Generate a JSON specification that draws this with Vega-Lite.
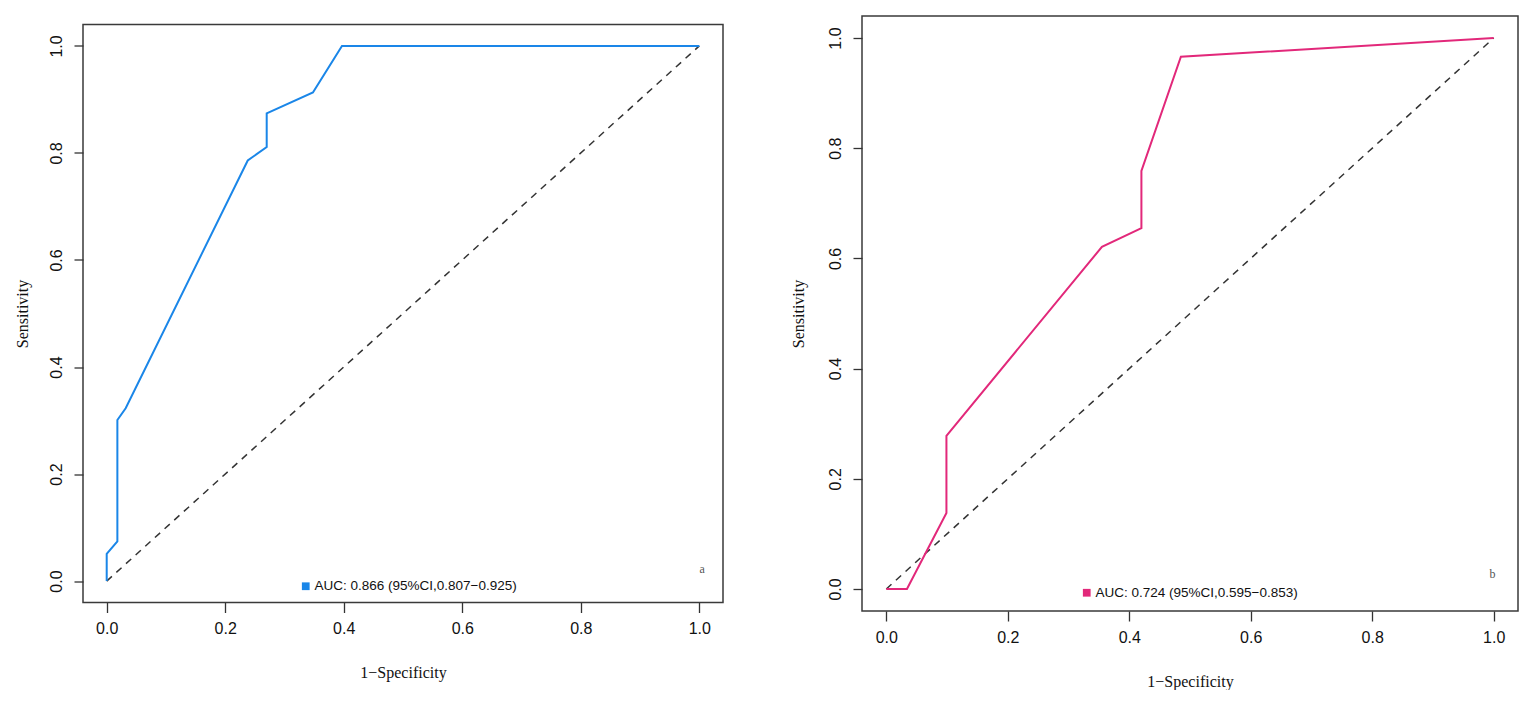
{
  "$schema": "https://vega.github.io/schema/vega-lite/v6.json",
  "background": "white",
  "padding": {"left": 13, "top": 15, "right": 0, "bottom": 0},
  "spacing": 139,
  "bounds": "flush",
  "center": true,
  "datasets": {
    "roc_a": [
      {"fpr": 0.0, "tpr": 0.0},
      {"fpr": 0.0, "tpr": 0.051},
      {"fpr": 0.018, "tpr": 0.074},
      {"fpr": 0.018, "tpr": 0.301},
      {"fpr": 0.032, "tpr": 0.323},
      {"fpr": 0.238, "tpr": 0.786},
      {"fpr": 0.270, "tpr": 0.811},
      {"fpr": 0.270, "tpr": 0.874},
      {"fpr": 0.348, "tpr": 0.913},
      {"fpr": 0.397, "tpr": 1.0},
      {"fpr": 1.0, "tpr": 1.0}
    ],
    "roc_b": [
      {"fpr": 0.0, "tpr": 0.0},
      {"fpr": 0.034, "tpr": 0.0},
      {"fpr": 0.099, "tpr": 0.138},
      {"fpr": 0.099, "tpr": 0.278},
      {"fpr": 0.355, "tpr": 0.621},
      {"fpr": 0.420, "tpr": 0.655},
      {"fpr": 0.420, "tpr": 0.759},
      {"fpr": 0.485, "tpr": 0.966},
      {"fpr": 1.0, "tpr": 1.0}
    ],
    "diag": [
      {"fpr": 0, "tpr": 0},
      {"fpr": 1, "tpr": 1}
    ]
  },
  "resolve": {"scale": {"color": "independent"}, "legend": {"color": "independent"}},
  "config": {
    "view": {"stroke": "#3a3a3a", "strokeWidth": 1.5},
    "axis": {
      "grid": false,
      "domain": false,
      "tickColor": "#333",
      "tickWidth": 1.3,
      "labelFont": "Liberation Sans",
      "labelFontSize": 16,
      "labelColor": "#111",
      "titleFont": "Liberation Serif",
      "titleFontSize": 16,
      "titleFontWeight": "normal",
      "titleColor": "#111"
    },
    "axisX": {"tickSize": 10, "labelPadding": 8, "titlePadding": 28},
    "axisY": {"tickSize": 9, "labelPadding": 13, "labelAngle": 270, "labelAlign": "center", "labelBaseline": "alphabetic", "titlePadding": 18},
    "legend": {
      "orient": "none",
      "padding": 0,
      "title": null,
      "symbolType": "square",
      "symbolSize": 60,
      "symbolStrokeWidth": 0,
      "labelFont": "Liberation Sans",
      "labelFontSize": 13.5,
      "labelColor": "#111",
      "labelOffset": 2,
      "labelLimit": 0
    }
  },
  "hconcat": [
    {
      "width": 640,
      "height": 578,
      "layer": [
        {
          "data": {"name": "diag"},
          "mark": {"type": "line", "color": "#333", "strokeWidth": 1.5, "strokeDash": [7, 6]},
          "encoding": {
            "x": {"field": "fpr", "type": "quantitative", "scale": {"domain": [-0.04, 1.04], "nice": false, "zero": false},
              "axis": {"values": [0, 0.2, 0.4, 0.6, 0.8, 1.0], "format": ".1f", "title": "1−Specificity"}},
            "y": {"field": "tpr", "type": "quantitative", "scale": {"domain": [-0.04, 1.04], "nice": false, "zero": false},
              "axis": {"values": [0, 0.2, 0.4, 0.6, 0.8, 1.0], "format": ".1f", "title": "Sensitivity"}}
          }
        },
        {
          "data": {"name": "roc_a"},
          "transform": [{"calculate": "'AUC: 0.866 (95%CI,0.807−0.925)'", "as": "series"}],
          "mark": {"type": "line", "strokeWidth": 2},
          "encoding": {
            "x": {"field": "fpr", "type": "quantitative"},
            "y": {"field": "tpr", "type": "quantitative"},
            "order": {"value": null},
            "color": {"field": "series", "type": "nominal",
              "scale": {"range": ["#1a86e8"]},
              "legend": {"legendX": 216, "legendY": 555, "symbolFillColor": "#1a86e8", "symbolStrokeColor": "#1a86e8"}}
          }
        },
        {
          "data": {"values": [{"tag": "a"}]},
          "mark": {"type": "text", "font": "Liberation Serif", "fontSize": 12, "color": "#555"},
          "encoding": {
            "x": {"datum": 1.005, "type": "quantitative"},
            "y": {"datum": 0.022, "type": "quantitative"},
            "text": {"field": "tag"}
          }
        }
      ]
    },
    {
      "width": 656,
      "height": 595,
      "layer": [
        {
          "data": {"name": "diag"},
          "mark": {"type": "line", "color": "#333", "strokeWidth": 1.5, "strokeDash": [7, 6]},
          "encoding": {
            "x": {"field": "fpr", "type": "quantitative", "scale": {"domain": [-0.04, 1.04], "nice": false, "zero": false},
              "axis": {"values": [0, 0.2, 0.4, 0.6, 0.8, 1.0], "format": ".1f", "title": "1−Specificity"}},
            "y": {"field": "tpr", "type": "quantitative", "scale": {"domain": [-0.04, 1.04], "nice": false, "zero": false},
              "axis": {"values": [0, 0.2, 0.4, 0.6, 0.8, 1.0], "format": ".1f", "title": "Sensitivity", "titlePadding": 21}}
          }
        },
        {
          "data": {"name": "roc_b"},
          "transform": [{"calculate": "'AUC: 0.724 (95%CI,0.595−0.853)'", "as": "series"}],
          "mark": {"type": "line", "strokeWidth": 2},
          "encoding": {
            "x": {"field": "fpr", "type": "quantitative"},
            "y": {"field": "tpr", "type": "quantitative"},
            "order": {"value": null},
            "color": {"field": "series", "type": "nominal",
              "scale": {"range": ["#e2287a"]},
              "legend": {"legendX": 218, "legendY": 570, "symbolFillColor": "#e2287a", "symbolStrokeColor": "#e2287a"}}
          }
        },
        {
          "data": {"values": [{"tag": "b"}]},
          "mark": {"type": "text", "font": "Liberation Serif", "fontSize": 12, "color": "#555"},
          "encoding": {
            "x": {"datum": 0.998, "type": "quantitative"},
            "y": {"datum": 0.027, "type": "quantitative"},
            "text": {"field": "tag"}
          }
        }
      ]
    }
  ]
}
